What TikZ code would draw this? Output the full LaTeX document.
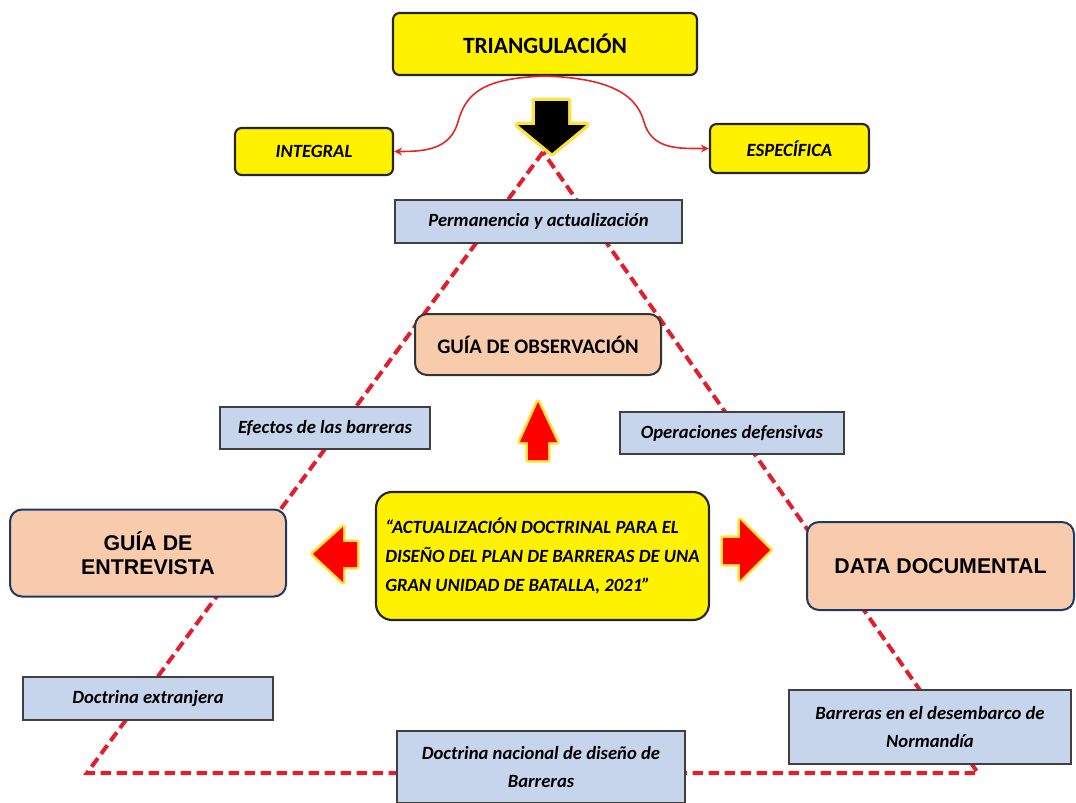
\documentclass[tikz,border=0pt]{standalone}
\usepackage{fontspec}
\setmainfont{Carlito}
\newfontfamily\arialf{Liberation Sans}
\usetikzlibrary{arrows.meta}
\definecolor{dred}{RGB}{226,30,45}
\definecolor{cred}{RGB}{225,40,40}
\definecolor{lblue}{RGB}{198,213,235}
\definecolor{peach}{RGB}{248,203,173}
\definecolor{navy}{RGB}{32,56,100}
\definecolor{glow}{RGB}{255,225,60}
\tikzset{
  ybox/.style={draw=black!85,fill=yellow,rounded corners=5pt,line width=1.6pt,inner sep=0pt},
  bbox/.style={draw=black!75,fill=lblue,line width=1.1pt,inner sep=0pt,font=\fontsize{14}{21.5}\selectfont\bfseries\itshape,align=center},
  pbox/.style={draw=navy,fill=peach,rounded corners=9pt,line width=1.5pt,inner sep=0pt},
  dashline/.style={draw=dred,line width=3pt,dash pattern=on 8pt off 4pt},
  redcurve/.style={draw=cred,line width=1.2pt,-{Stealth[length=6pt,width=6pt]}},
  glowarrow/.style={draw=glow,line width=4pt,line join=round,fill=red},
}
\begin{document}
\begin{tikzpicture}[x=0.75pt,y=-0.75pt]
\useasboundingbox (0,0) rectangle (1076,803);
% dashed triangle
\coordinate (apex) at (543,152);
\coordinate (bl) at (87,773);
\coordinate (br) at (978,773);
\draw[dashline] (apex) -- (bl) -- (br) -- cycle;

% nodes
\node[ybox,minimum width=228pt,minimum height=46.5pt,font=\fontsize{17.5}{20}\selectfont\bfseries] (tri) at (545,44) {TRIANGULACIÓN};
\node[ybox,minimum width=118.5pt,minimum height=35.25pt,font=\fontsize{14}{16}\selectfont\bfseries\itshape] (integral) at (314,151.5) {INTEGRAL};
\node[ybox,minimum width=119.25pt,minimum height=36.75pt,font=\fontsize{14}{16}\selectfont\bfseries\itshape] (especifica) at (789.5,148.5) {ESPECÍFICA};

\node[bbox,minimum width=215.25pt,minimum height=32.25pt] (perm) at (538.5,221.5) {Permanencia y actualización};
\node[pbox,draw=black!80,minimum width=184.5pt,minimum height=45.75pt,font=\fontsize{15.5}{18}\selectfont\bfseries] (obs) at (538,344.5) {GUÍA DE OBSERVACIÓN};
\node[bbox,minimum width=157.5pt,minimum height=31.5pt] (efectos) at (325,428) {Efectos de las barreras};
\node[bbox,minimum width=168pt,minimum height=31.5pt] (operac) at (732,433) {Operaciones defensivas};

\node[ybox,rounded corners=12pt,minimum width=249.75pt,minimum height=96pt,align=left,font=\fontsize{14}{21.75}\selectfont\bfseries\itshape] (central) at (542.5,556) {“ACTUALIZACIÓN DOCTRINAL PARA EL\\DISEÑO DEL PLAN DE BARRERAS DE UNA\\GRAN UNIDAD DE BATALLA, 2021”};

\node[pbox,minimum width=207pt,minimum height=65.25pt,align=center,font=\fontsize{16}{18}\selectfont\arialf\bfseries] (entrev) at (148,553) {GUÍA DE\\ENTREVISTA};
\node[pbox,minimum width=200.25pt,minimum height=66pt,font=\fontsize{16}{18}\selectfont\arialf\bfseries] (data) at (940.5,566) {DATA DOCUMENTAL};

\node[bbox,minimum width=187.5pt,minimum height=32.25pt] (extranjera) at (148,698.5) {Doctrina extranjera};
\node[bbox,minimum width=211.5pt,minimum height=55.5pt] (barreras) at (930,727) {Barreras en el desembarco de\\Normandía};
\node[bbox,minimum width=216pt,minimum height=54pt] (nacional) at (541,767) {Doctrina nacional de diseño de\\Barreras};

% red curves
\coordinate (cl) at (458,122);
\coordinate (cr) at (644,122);
\draw[redcurve] (tri.south) .. controls +(-60,2) and +(8,-30) .. (cl) .. controls +(-8,28) and +(30,0) .. (integral.east);
\draw[redcurve] (tri.south) .. controls +(60,2) and +(-8,-30) .. (cr) .. controls +(8,28) and +(-30,0) .. (especifica.west);

% black arrow
\draw[draw=glow,line width=5pt,line join=round,fill=black]
  (535,101) -- (568,101) -- (568,125) -- (586,125) -- (552,153) -- (518,125) -- (535,125) -- cycle;
\fill[black] (535,101) -- (568,101) -- (568,125) -- (586,125) -- (552,153) -- (518,125) -- (535,125) -- cycle;

% red block arrows
\draw[glowarrow] (538,402) -- (557,442) -- (548,442) -- (548,460) -- (528,460) -- (528,442) -- (520,442) -- cycle;
\fill[red] (538,402) -- (557,442) -- (548,442) -- (548,460) -- (528,460) -- (528,442) -- (520,442) -- cycle;
\draw[glowarrow] (313,554) -- (343,527) -- (343,542) -- (357,542) -- (357,567) -- (343,567) -- (343,582) -- cycle;
\fill[red] (313,554) -- (343,527) -- (343,542) -- (357,542) -- (357,567) -- (343,567) -- (343,582) -- cycle;
\draw[glowarrow] (770,550) -- (740,520) -- (740,538) -- (723,538) -- (723,564) -- (740,564) -- (740,580) -- cycle;
\fill[red] (770,550) -- (740,520) -- (740,538) -- (723,538) -- (723,564) -- (740,564) -- (740,580) -- cycle;
\end{tikzpicture}
\end{document}
